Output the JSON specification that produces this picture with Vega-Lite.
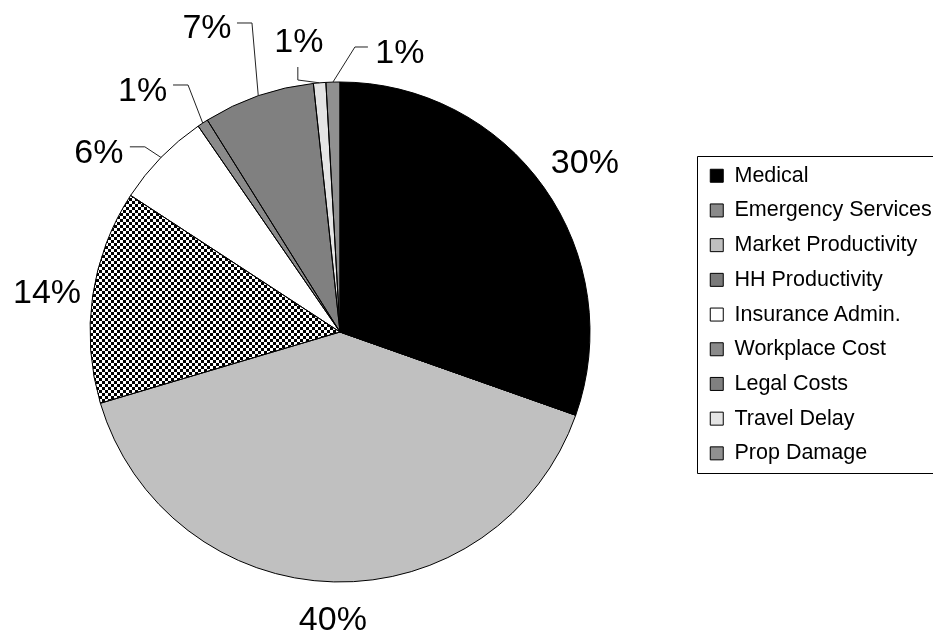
{
  "$schema": "https://vega.github.io/schema/vega-lite/v6.json",
  "width": 680,
  "height": 664,
  "padding": 0,
  "background": "white",
  "config": {"view": {"stroke": null}, "font": "Liberation Sans"},
  "data": {
    "values": [
      {"cat": "Medical", "v": 0.304, "i": 1},
      {"cat": "Emergency Services", "v": 0, "i": 2},
      {"cat": "Market Productivity", "v": 0.4, "i": 3},
      {"cat": "HH Productivity", "v": 0.138, "i": 4},
      {"cat": "Insurance Admin.", "v": 0.062, "i": 5},
      {"cat": "Workplace Cost", "v": 0.007, "i": 6},
      {"cat": "Legal Costs", "v": 0.072, "i": 7},
      {"cat": "Travel Delay", "v": 0.008, "i": 8},
      {"cat": "Prop Damage", "v": 0.009, "i": 9}
    ]
  },
  "layer": [
    {
      "mark": {"type": "arc", "outerRadius": 250, "strokeWidth": 0},
      "encoding": {
        "theta": {"field": "v", "type": "quantitative", "stack": true},
        "order": {"field": "i", "type": "quantitative"},
        "fill": {
          "field": "cat",
          "type": "nominal",
          "sort": null,
          "condition": {
            "test": "datum.cat === 'HH Productivity'",
            "value": {"gradient": "linear", "x1": 0, "y1": 0, "x2": 0, "y2": 1, "stops": [
              {"offset":0,"color":"#000"},{"offset":0.0144,"color":"#000"},{"offset":0.0144,"color":"#fff"},{"offset":0.0288,"color":"#fff"},
              {"offset":0.0288,"color":"#000"},{"offset":0.0432,"color":"#000"},{"offset":0.0432,"color":"#fff"},{"offset":0.0576,"color":"#fff"},
              {"offset":0.0576,"color":"#000"},{"offset":0.072,"color":"#000"},{"offset":0.072,"color":"#fff"},{"offset":0.0864,"color":"#fff"},
              {"offset":0.0864,"color":"#000"},{"offset":0.1008,"color":"#000"},{"offset":0.1008,"color":"#fff"},{"offset":0.1152,"color":"#fff"},
              {"offset":0.1152,"color":"#000"},{"offset":0.1296,"color":"#000"},{"offset":0.1296,"color":"#fff"},{"offset":0.144,"color":"#fff"},
              {"offset":0.144,"color":"#000"},{"offset":0.1584,"color":"#000"},{"offset":0.1584,"color":"#fff"},{"offset":0.1728,"color":"#fff"},
              {"offset":0.1728,"color":"#000"},{"offset":0.1872,"color":"#000"},{"offset":0.1872,"color":"#fff"},{"offset":0.2016,"color":"#fff"},
              {"offset":0.2016,"color":"#000"},{"offset":0.216,"color":"#000"},{"offset":0.216,"color":"#fff"},{"offset":0.2304,"color":"#fff"},
              {"offset":0.2304,"color":"#000"},{"offset":0.2448,"color":"#000"},{"offset":0.2448,"color":"#fff"},{"offset":0.2592,"color":"#fff"},
              {"offset":0.2592,"color":"#000"},{"offset":0.2736,"color":"#000"},{"offset":0.2736,"color":"#fff"},{"offset":0.288,"color":"#fff"},
              {"offset":0.288,"color":"#000"},{"offset":0.3024,"color":"#000"},{"offset":0.3024,"color":"#fff"},{"offset":0.3168,"color":"#fff"},
              {"offset":0.3168,"color":"#000"},{"offset":0.3312,"color":"#000"},{"offset":0.3312,"color":"#fff"},{"offset":0.3456,"color":"#fff"},
              {"offset":0.3456,"color":"#000"},{"offset":0.36,"color":"#000"},{"offset":0.36,"color":"#fff"},{"offset":0.3744,"color":"#fff"},
              {"offset":0.3744,"color":"#000"},{"offset":0.3888,"color":"#000"},{"offset":0.3888,"color":"#fff"},{"offset":0.4032,"color":"#fff"},
              {"offset":0.4032,"color":"#000"},{"offset":0.4176,"color":"#000"},{"offset":0.4176,"color":"#fff"},{"offset":0.432,"color":"#fff"},
              {"offset":0.432,"color":"#000"},{"offset":0.4464,"color":"#000"},{"offset":0.4464,"color":"#fff"},{"offset":0.4608,"color":"#fff"},
              {"offset":0.4608,"color":"#000"},{"offset":0.4752,"color":"#000"},{"offset":0.4752,"color":"#fff"},{"offset":0.4896,"color":"#fff"},
              {"offset":0.4896,"color":"#000"},{"offset":0.504,"color":"#000"},{"offset":0.504,"color":"#fff"},{"offset":0.5184,"color":"#fff"},
              {"offset":0.5184,"color":"#000"},{"offset":0.5328,"color":"#000"},{"offset":0.5328,"color":"#fff"},{"offset":0.5472,"color":"#fff"},
              {"offset":0.5472,"color":"#000"},{"offset":0.5616,"color":"#000"},{"offset":0.5616,"color":"#fff"},{"offset":0.576,"color":"#fff"},
              {"offset":0.576,"color":"#000"},{"offset":0.5904,"color":"#000"},{"offset":0.5904,"color":"#fff"},{"offset":0.6048,"color":"#fff"},
              {"offset":0.6048,"color":"#000"},{"offset":0.6192,"color":"#000"},{"offset":0.6192,"color":"#fff"},{"offset":0.6336,"color":"#fff"},
              {"offset":0.6336,"color":"#000"},{"offset":0.648,"color":"#000"},{"offset":0.648,"color":"#fff"},{"offset":0.6624,"color":"#fff"},
              {"offset":0.6624,"color":"#000"},{"offset":0.6768,"color":"#000"},{"offset":0.6768,"color":"#fff"},{"offset":0.6912,"color":"#fff"},
              {"offset":0.6912,"color":"#000"},{"offset":0.7056,"color":"#000"},{"offset":0.7056,"color":"#fff"},{"offset":0.72,"color":"#fff"},
              {"offset":0.72,"color":"#000"},{"offset":0.7344,"color":"#000"},{"offset":0.7344,"color":"#fff"},{"offset":0.7488,"color":"#fff"},
              {"offset":0.7488,"color":"#000"},{"offset":0.7632,"color":"#000"},{"offset":0.7632,"color":"#fff"},{"offset":0.7776,"color":"#fff"},
              {"offset":0.7776,"color":"#000"},{"offset":0.792,"color":"#000"},{"offset":0.792,"color":"#fff"},{"offset":0.8064,"color":"#fff"},
              {"offset":0.8064,"color":"#000"},{"offset":0.8208,"color":"#000"},{"offset":0.8208,"color":"#fff"},{"offset":0.8352,"color":"#fff"},
              {"offset":0.8352,"color":"#000"},{"offset":0.8496,"color":"#000"},{"offset":0.8496,"color":"#fff"},{"offset":0.864,"color":"#fff"},
              {"offset":0.864,"color":"#000"},{"offset":0.8784,"color":"#000"},{"offset":0.8784,"color":"#fff"},{"offset":0.8928,"color":"#fff"},
              {"offset":0.8928,"color":"#000"},{"offset":0.9072,"color":"#000"},{"offset":0.9072,"color":"#fff"},{"offset":0.9216,"color":"#fff"},
              {"offset":0.9216,"color":"#000"},{"offset":0.936,"color":"#000"},{"offset":0.936,"color":"#fff"},{"offset":0.9504,"color":"#fff"},
              {"offset":0.9504,"color":"#000"},{"offset":0.9648,"color":"#000"},{"offset":0.9648,"color":"#fff"},{"offset":0.9792,"color":"#fff"},
              {"offset":0.9792,"color":"#000"},{"offset":0.9936,"color":"#000"},{"offset":0.9936,"color":"#fff"},{"offset":1,"color":"#fff"}
            ]}
          },
          "scale": {
            "domain": ["Medical", "Emergency Services", "Market Productivity", "HH Productivity", "Insurance Admin.", "Workplace Cost", "Legal Costs", "Travel Delay", "Prop Damage"],
            "range": ["#000000", "#8a8a8a", "#c0c0c0", "#7a7a7a", "#ffffff", "#8a8a8a", "#808080", "#e4e4e4", "#909090"]
          },
          "legend": {
            "title": null,
            "orient": "none",
            "legendX": 697,
            "legendY": 156,
            "strokeColor": "black",
            "fillColor": "white",
            "padding": 9,
            "symbolType": "square",
            "symbolSize": 169,
            "symbolStrokeColor": "black",
            "symbolStrokeWidth": 1,
            "symbolOpacity": 1,
            "labelFontSize": 21.5,
            "labelFont": "Liberation Sans",
            "labelColor": "black",
            "labelLimit": 400,
            "labelOffset": 7,
            "rowPadding": 11.7
          }
        }
      }
    },
    {
      "mark": {"type": "arc", "outerRadius": 250, "strokeWidth": 0, "blend": "difference"},
      "encoding": {
        "theta": {"field": "v", "type": "quantitative", "stack": true},
        "order": {"field": "i", "type": "quantitative"},
        "fill": {
          "condition": {
            "test": "datum.cat === 'HH Productivity'",
            "value": {"gradient": "linear", "x1": 0, "y1": 0, "x2": 1, "y2": 0, "stops": [
              {"offset":0,"color":"#000"},{"offset":0.012,"color":"#000"},{"offset":0.012,"color":"#fff"},{"offset":0.024,"color":"#fff"},
              {"offset":0.024,"color":"#000"},{"offset":0.036,"color":"#000"},{"offset":0.036,"color":"#fff"},{"offset":0.048,"color":"#fff"},
              {"offset":0.048,"color":"#000"},{"offset":0.06,"color":"#000"},{"offset":0.06,"color":"#fff"},{"offset":0.072,"color":"#fff"},
              {"offset":0.072,"color":"#000"},{"offset":0.084,"color":"#000"},{"offset":0.084,"color":"#fff"},{"offset":0.096,"color":"#fff"},
              {"offset":0.096,"color":"#000"},{"offset":0.108,"color":"#000"},{"offset":0.108,"color":"#fff"},{"offset":0.12,"color":"#fff"},
              {"offset":0.12,"color":"#000"},{"offset":0.132,"color":"#000"},{"offset":0.132,"color":"#fff"},{"offset":0.144,"color":"#fff"},
              {"offset":0.144,"color":"#000"},{"offset":0.156,"color":"#000"},{"offset":0.156,"color":"#fff"},{"offset":0.168,"color":"#fff"},
              {"offset":0.168,"color":"#000"},{"offset":0.18,"color":"#000"},{"offset":0.18,"color":"#fff"},{"offset":0.192,"color":"#fff"},
              {"offset":0.192,"color":"#000"},{"offset":0.204,"color":"#000"},{"offset":0.204,"color":"#fff"},{"offset":0.216,"color":"#fff"},
              {"offset":0.216,"color":"#000"},{"offset":0.228,"color":"#000"},{"offset":0.228,"color":"#fff"},{"offset":0.24,"color":"#fff"},
              {"offset":0.24,"color":"#000"},{"offset":0.252,"color":"#000"},{"offset":0.252,"color":"#fff"},{"offset":0.264,"color":"#fff"},
              {"offset":0.264,"color":"#000"},{"offset":0.276,"color":"#000"},{"offset":0.276,"color":"#fff"},{"offset":0.288,"color":"#fff"},
              {"offset":0.288,"color":"#000"},{"offset":0.3,"color":"#000"},{"offset":0.3,"color":"#fff"},{"offset":0.312,"color":"#fff"},
              {"offset":0.312,"color":"#000"},{"offset":0.324,"color":"#000"},{"offset":0.324,"color":"#fff"},{"offset":0.336,"color":"#fff"},
              {"offset":0.336,"color":"#000"},{"offset":0.348,"color":"#000"},{"offset":0.348,"color":"#fff"},{"offset":0.36,"color":"#fff"},
              {"offset":0.36,"color":"#000"},{"offset":0.372,"color":"#000"},{"offset":0.372,"color":"#fff"},{"offset":0.384,"color":"#fff"},
              {"offset":0.384,"color":"#000"},{"offset":0.396,"color":"#000"},{"offset":0.396,"color":"#fff"},{"offset":0.408,"color":"#fff"},
              {"offset":0.408,"color":"#000"},{"offset":0.42,"color":"#000"},{"offset":0.42,"color":"#fff"},{"offset":0.432,"color":"#fff"},
              {"offset":0.432,"color":"#000"},{"offset":0.444,"color":"#000"},{"offset":0.444,"color":"#fff"},{"offset":0.456,"color":"#fff"},
              {"offset":0.456,"color":"#000"},{"offset":0.468,"color":"#000"},{"offset":0.468,"color":"#fff"},{"offset":0.48,"color":"#fff"},
              {"offset":0.48,"color":"#000"},{"offset":0.492,"color":"#000"},{"offset":0.492,"color":"#fff"},{"offset":0.504,"color":"#fff"},
              {"offset":0.504,"color":"#000"},{"offset":0.516,"color":"#000"},{"offset":0.516,"color":"#fff"},{"offset":0.528,"color":"#fff"},
              {"offset":0.528,"color":"#000"},{"offset":0.54,"color":"#000"},{"offset":0.54,"color":"#fff"},{"offset":0.552,"color":"#fff"},
              {"offset":0.552,"color":"#000"},{"offset":0.564,"color":"#000"},{"offset":0.564,"color":"#fff"},{"offset":0.576,"color":"#fff"},
              {"offset":0.576,"color":"#000"},{"offset":0.588,"color":"#000"},{"offset":0.588,"color":"#fff"},{"offset":0.6,"color":"#fff"},
              {"offset":0.6,"color":"#000"},{"offset":0.612,"color":"#000"},{"offset":0.612,"color":"#fff"},{"offset":0.624,"color":"#fff"},
              {"offset":0.624,"color":"#000"},{"offset":0.636,"color":"#000"},{"offset":0.636,"color":"#fff"},{"offset":0.648,"color":"#fff"},
              {"offset":0.648,"color":"#000"},{"offset":0.66,"color":"#000"},{"offset":0.66,"color":"#fff"},{"offset":0.672,"color":"#fff"},
              {"offset":0.672,"color":"#000"},{"offset":0.684,"color":"#000"},{"offset":0.684,"color":"#fff"},{"offset":0.696,"color":"#fff"},
              {"offset":0.696,"color":"#000"},{"offset":0.708,"color":"#000"},{"offset":0.708,"color":"#fff"},{"offset":0.72,"color":"#fff"},
              {"offset":0.72,"color":"#000"},{"offset":0.732,"color":"#000"},{"offset":0.732,"color":"#fff"},{"offset":0.744,"color":"#fff"},
              {"offset":0.744,"color":"#000"},{"offset":0.756,"color":"#000"},{"offset":0.756,"color":"#fff"},{"offset":0.768,"color":"#fff"},
              {"offset":0.768,"color":"#000"},{"offset":0.78,"color":"#000"},{"offset":0.78,"color":"#fff"},{"offset":0.792,"color":"#fff"},
              {"offset":0.792,"color":"#000"},{"offset":0.804,"color":"#000"},{"offset":0.804,"color":"#fff"},{"offset":0.816,"color":"#fff"},
              {"offset":0.816,"color":"#000"},{"offset":0.828,"color":"#000"},{"offset":0.828,"color":"#fff"},{"offset":0.84,"color":"#fff"},
              {"offset":0.84,"color":"#000"},{"offset":0.852,"color":"#000"},{"offset":0.852,"color":"#fff"},{"offset":0.864,"color":"#fff"},
              {"offset":0.864,"color":"#000"},{"offset":0.876,"color":"#000"},{"offset":0.876,"color":"#fff"},{"offset":0.888,"color":"#fff"},
              {"offset":0.888,"color":"#000"},{"offset":0.9,"color":"#000"},{"offset":0.9,"color":"#fff"},{"offset":0.912,"color":"#fff"},
              {"offset":0.912,"color":"#000"},{"offset":0.924,"color":"#000"},{"offset":0.924,"color":"#fff"},{"offset":0.936,"color":"#fff"},
              {"offset":0.936,"color":"#000"},{"offset":0.948,"color":"#000"},{"offset":0.948,"color":"#fff"},{"offset":0.96,"color":"#fff"},
              {"offset":0.96,"color":"#000"},{"offset":0.972,"color":"#000"},{"offset":0.972,"color":"#fff"},{"offset":0.984,"color":"#fff"},
              {"offset":0.984,"color":"#000"},{"offset":0.996,"color":"#000"},{"offset":0.996,"color":"#fff"},{"offset":1,"color":"#fff"}
            ]}
          },
          "value": "transparent"
        }
      }
    },
    {
      "mark": {"type": "arc", "outerRadius": 250, "fillOpacity": 0, "stroke": "black", "strokeWidth": 1},
      "encoding": {
        "theta": {"field": "v", "type": "quantitative", "stack": true},
        "order": {"field": "i", "type": "quantitative"}
      }
    },
    {
      "transform": [
        {"window": [{"op": "sum", "field": "v", "as": "cum"}], "sort": [{"field": "i"}], "frame": [null, 0]},
        {"joinaggregate": [{"op": "sum", "field": "v", "as": "tot"}]},
        {"calculate": "2*PI*(datum.cum - datum.v/2)/datum.tot", "as": "mid"},
        {"filter": "datum.v > 0"},
        {"calculate": "datum.cat==='Insurance Admin.' ? [269,313.5,-15,0,-31,-2,0] : datum.cat==='Workplace Cost' ? [290,328.4,-15,0,-30.5,-2,0] : datum.cat==='Legal Costs' ? [321.3,344.1,-15,0,-30,-1,0] : datum.cat==='Travel Delay' ? [255.5,350.5,0,13,1,29,0] : datum.cat==='Prop Damage' ? [285.4,3,13,0,32,-2,0] : datum.cat==='Medical' ? [0,0,0,0,0,0,300] : datum.cat==='Market Productivity' ? [0,0,0,0,0,0,284] : [0,0,0,0,0,0,296]", "as": "p"},
        {"calculate": "250*sin(datum.mid)", "as": "x0"},
        {"calculate": "250*cos(datum.mid)", "as": "y0"},
        {"calculate": "datum.p[0]*sin(datum.p[1]*PI/180)", "as": "x1"},
        {"calculate": "datum.p[0]*cos(datum.p[1]*PI/180)", "as": "y1"},
        {"calculate": "datum.x1 + datum.p[2]", "as": "x2"},
        {"calculate": "datum.y1 + datum.p[3]", "as": "y2"},
        {"calculate": "datum.p[6] > 0 ? datum.p[6]*sin(datum.mid) : datum.x2 + datum.p[4]", "as": "lx"},
        {"calculate": "(datum.p[6] > 0 ? datum.p[6]*cos(datum.mid) : datum.y2 + datum.p[5]) - 4", "as": "ly"}
      ],
      "layer": [
        {
          "transform": [{"filter": "datum.p[0] > 0"}],
          "mark": {"type": "rule", "color": "#222222", "strokeWidth": 1},
          "encoding": {
            "x": {"field": "x0", "type": "quantitative", "scale": {"domain": [-340, 340], "nice": false, "zero": false}, "axis": null},
            "y": {"field": "y0", "type": "quantitative", "scale": {"domain": [-332, 332], "nice": false, "zero": false}, "axis": null},
            "x2": {"field": "x1"},
            "y2": {"field": "y1"}
          }
        },
        {
          "transform": [{"filter": "datum.p[0] > 0"}],
          "mark": {"type": "rule", "color": "#222222", "strokeWidth": 1},
          "encoding": {
            "x": {"field": "x1", "type": "quantitative", "axis": null},
            "y": {"field": "y1", "type": "quantitative", "axis": null},
            "x2": {"field": "x2"},
            "y2": {"field": "y2"}
          }
        },
        {
          "mark": {"type": "text", "fontSize": 34, "font": "Liberation Sans", "color": "black", "align": "center", "baseline": "middle"},
          "encoding": {
            "x": {"field": "lx", "type": "quantitative", "axis": null},
            "y": {"field": "ly", "type": "quantitative", "axis": null},
            "text": {"field": "v", "type": "quantitative", "format": ".0%"}
          }
        }
      ]
    }
  ]
}
